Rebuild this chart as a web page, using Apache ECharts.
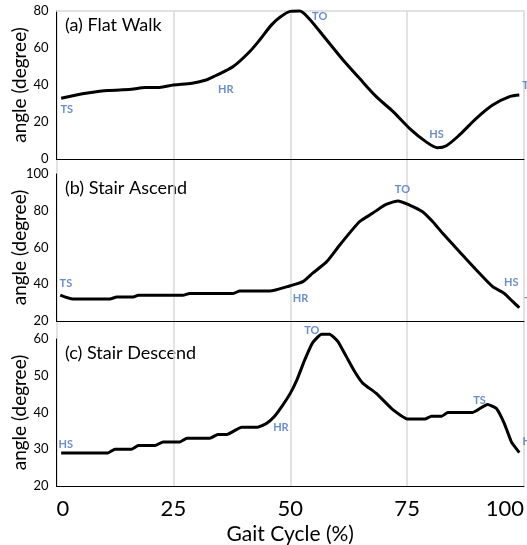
<!DOCTYPE html>
<html>
<head>
<meta charset="utf-8">
<script src="https://cdn.jsdelivr.net/npm/echarts@6/dist/echarts.min.js"></script>
<style>
  html, body { margin: 0; padding: 0; background: #fff; }
  #chart { width: 527px; height: 545px; }
</style>
</head>
<body>
<div id="chart"></div>
<script>
// gait cycle (%) sample positions and knee angles (degree) for each panel
const xFlat = [1, 4, 7, 11, 16, 19, 22, 25, 29, 32, 34, 37.8, 41.3, 43.5, 46, 48, 50, 52, 54, 57.8, 61.3, 64.8, 68.4, 72, 75.5, 79, 81.5, 83.4, 86.2, 89.8, 93.3, 96.9, 99];
const angleFlat = [32.8, 34.5, 35.8, 37, 37.7, 38.7, 38.7, 40, 41, 42.7, 45, 50, 58, 64.5, 72.5, 77, 79.8, 80, 76, 64.3, 53.5, 43.6, 33.7, 25.6, 16.6, 9.4, 6.1, 7.2, 13, 22, 29.2, 33.7, 34.6];

const xAscend = [0.8, 3.5, 11.4, 12.9, 16.4, 17.5, 27, 28.5, 37.8, 39.2, 45.6, 50, 52.7, 54.8, 57.8, 60.6, 64.8, 67.6, 70.2, 73, 75.5, 78.3, 80.5, 82.6, 86.2, 89.8, 93.3, 95.8, 97.6, 99];
const angleAscend = [34.1, 32, 32, 33, 33, 34, 34, 35, 35, 36.3, 36.3, 39.2, 41.4, 46, 52.3, 61.4, 74, 78.6, 83.1, 85.3, 83.1, 79.5, 74, 67.7, 57.7, 47.8, 38.7, 35, 30.5, 27.2];

const xDescend = [1, 11, 12.5, 16, 17.5, 21, 22.8, 26.4, 27.9, 32.8, 34.5, 36.4, 39.6, 43, 44.9, 46.6, 48.4, 50, 51.4, 53.1, 54.8, 56.7, 58.4, 60.2, 62, 63.8, 65.5, 68.4, 72, 75.2, 78.8, 80.2, 82.4, 83.7, 89, 92.2, 94.1, 95.8, 97.3, 99];
const angleDescend = [29, 29, 30, 30, 31, 31, 32, 32, 33, 33, 34, 34, 36, 36, 37, 38.9, 42, 45.2, 48.8, 54.3, 59, 61.3, 61.3, 59.3, 55.2, 51.1, 48, 45.2, 40.7, 38.2, 38.2, 39, 39, 40, 40, 42.2, 41.1, 37, 32, 29.1];

// gait events: name, position (%) and angle where the label sits
const eventFlat = ['TS', 'HR', 'TO', 'HS', 'TS'];
const eventFlatX = [2.2, 36.2, 56.3, 81.3, 101];
const eventFlatY = [27, 37.8, 77.3, 13, 40];

const eventAscend = ['TS', 'HR', 'TO', 'HS', 'T'];
const eventAscendX = [2, 52.2, 74, 97.3, 100.8];
const eventAscendY = [40.7, 32, 91.8, 41.2, 30.9];

const eventDescend = ['HS', 'HR', 'TO', 'TS', 'H'];
const eventDescendX = [2, 48, 54.6, 90.5, 100.6];
const eventDescendY = [31.2, 36, 62.4, 43.4, 32];

const xTicks = [0, 25, 50, 75, 100];

const panelTitles = ['(a) Flat Walk', '(b) Stair Ascend', '(c) Stair Descend'];
const yMins = [0, 20, 20];
const yMaxs = [80, 100, 60];
const ySteps = [20, 20, 10];

const FONT = 'Lato, "Open Sans", sans-serif';
const BLUE = '#4472C4';

function zip(xs, ys) {
  return xs.map(function (x, i) { return [x, ys[i]]; });
}

const chart = echarts.init(document.getElementById('chart'), null, { renderer: 'canvas' });

const tops = [11, 174, 339];
const heights = [148, 147, 147];

const grids = tops.map(function (t, i) {
  return { left: 56.5, right: 3, top: t, height: heights[i], outerBoundsMode: 'none', containLabel: false };
});
// background grid only for the vertical gridlines running through all panels
grids.push({ left: 56.5, right: 3, top: 11, height: 475, outerBoundsMode: 'none', containLabel: false });

const xAxes = [0, 1, 2].map(function (i) {
  return {
    type: 'value', gridIndex: i, min: 0, max: 100, interval: 25,
    axisLine: { show: true, lineStyle: { color: '#000', width: 1 } },
    axisTick: { show: false },
    splitLine: { show: false },
    axisLabel: i === 2 ? {
      show: true, fontSize: 22, color: '#000', fontFamily: FONT, margin: 12,
      alignMinLabel: 'left', alignMaxLabel: 'right',
      formatter: function (v) { return xTicks.indexOf(v) >= 0 ? String(v) : ''; }
    } : { show: false },
    name: i === 2 ? 'Gait Cycle (%)' : '',
    nameLocation: 'middle', nameGap: 38, nameMoveOverlap: false,
    nameTextStyle: { fontSize: 21, color: '#000', fontFamily: FONT }
  };
});
xAxes.push({
  type: 'value', gridIndex: 3, min: 0, max: 100, interval: 25,
  axisLine: { show: false }, axisTick: { show: false }, axisLabel: { show: false },
  splitLine: { show: true, lineStyle: { color: '#d9d9d9', width: 1.5 } }
});
// light top border on panel (a)
xAxes.push({
  type: 'value', gridIndex: 0, position: 'top', min: 0, max: 100,
  axisLine: { show: true, lineStyle: { color: '#d9d9d9', width: 1.5 } },
  axisTick: { show: false }, axisLabel: { show: false }, splitLine: { show: false }
});

const yAxes = [0, 1, 2].map(function (i) {
  return {
    type: 'value', gridIndex: i, min: yMins[i], max: yMaxs[i], interval: ySteps[i],
    axisLine: { show: true, lineStyle: { color: '#000', width: 1 } },
    axisTick: { show: false },
    splitLine: { show: false },
    axisLabel: { fontSize: 13, color: '#000', fontFamily: FONT, margin: 8 },
    name: 'angle (degree)', nameLocation: 'middle', nameGap: 27, nameMoveOverlap: false,
    nameTextStyle: { fontSize: 19, color: '#000', fontFamily: FONT }
  };
});
yAxes.push({
  type: 'value', gridIndex: 3, min: 0, max: 1, show: false
});

function curve(i, xs, ys, smooth) {
  return {
    type: 'line', xAxisIndex: i, yAxisIndex: i,
    data: zip(xs, ys), showSymbol: false, smooth: smooth, clip: false,
    lineStyle: { color: '#000', width: 3 }, z: 5
  };
}

function events(i, names, xs, ys) {
  return {
    type: 'scatter', xAxisIndex: i, yAxisIndex: i, symbolSize: 0, clip: false,
    data: names.map(function (n, k) { return { value: [xs[k], ys[k]], name: n }; }),
    label: {
      show: true, position: 'inside', formatter: '{b}',
      color: BLUE, fontSize: 11, fontWeight: 'bold', fontFamily: FONT
    },
    z: 6
  };
}

const option = {
  animation: false,
  backgroundColor: '#fff',
  grid: grids,
  xAxis: xAxes,
  yAxis: yAxes,
  graphic: panelTitles.map(function (t, i) {
    return {
      type: 'text', left: 65, top: tops[i] + 5,
      style: { text: t, fontSize: 18, fill: '#000', fontFamily: FONT }
    };
  }),
  series: [
    curve(0, xFlat, angleFlat, 0.3),
    curve(1, xAscend, angleAscend, 0.2),
    curve(2, xDescend, angleDescend, 0.15),
    events(0, eventFlat, eventFlatX, eventFlatY),
    events(1, eventAscend, eventAscendX, eventAscendY),
    events(2, eventDescend, eventDescendX, eventDescendY)
  ]
};

chart.setOption(option);
</script>
</body>
</html>
